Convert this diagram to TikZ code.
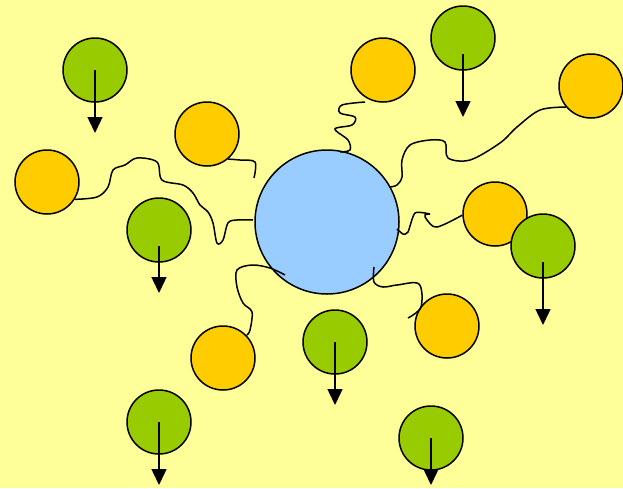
\documentclass[tikz,border=0pt]{standalone}
\usetikzlibrary{arrows.meta}
\definecolor{bgyel}{HTML}{FFFF99}
\definecolor{grn}{HTML}{99CC00}
\definecolor{org}{HTML}{FFCC00}
\definecolor{blu}{HTML}{99CCFF}
\tikzset{
  ball/.style={circle,draw=black,line width=1.5pt,minimum size=64pt,inner sep=0pt},
  gball/.style={ball,fill=grn},
  oball/.style={ball,fill=org},
  bigball/.style={ball,fill=blu,minimum size=144pt},
  wig/.style={line width=1.5pt,draw=black},
  arr/.style={line width=1.5pt,-{Triangle[length=16pt,width=15pt]}}
}
\begin{document}
\begin{tikzpicture}[x=1pt,y=-1pt]
\fill[bgyel] (0,0) rectangle (623,488);
\useasboundingbox (0,0) rectangle (623,488);
% circles
\node[bigball] (big) at (327,222) {};
\node[oball] (o1) at (207,134) {};
\node[oball] (o2) at (383,70) {};
\node[oball] (o3) at (591,86) {};
\node[oball] (o4) at (47,182) {};
\node[oball] (o5) at (495,214) {};
\node[oball] (o6) at (447,326) {};
\node[oball] (o7) at (223,358) {};
\node[gball] (g1) at (95,70) {};
\node[gball] (g2) at (463,38) {};
\node[gball] (g3) at (159,230) {};
\node[gball] (g4) at (543,246) {};
\node[gball] (g5) at (335,342) {};
\node[gball] (g6) at (159,422) {};
\node[gball] (g7) at (431,438) {};
% arrows
\draw[arr] (g1.center) -- ++(0,63);
\draw[arr] ([yshift=-16pt]g2.center) -- ++(0,63);
\draw[arr] ([yshift=-16pt]g3.center) -- ++(0,47);
\draw[arr] ([yshift=-16pt]g4.center) -- ++(0,63);
\draw[arr] (g5.center) -- ++(0,63);
\draw[arr] (g6.center) -- ++(0,63);
\draw[arr] (g7.center) -- ++(0,47);
% wiggly connectors
\draw[wig] plot[smooth,tension=0.55] coordinates {(o4.-32) (97,197) (108,187) (113,170) (125,165) (137,158) (157,162) (162,180) (183,185) (193,193) (200,205) (208,212) (213,223) (217,243) (223,240) (228,223) (237,220) (253,220)};
\draw[wig] plot[smooth,tension=0.55] coordinates {(o1.-50) (240,160) (255,162) (254,178)};
\draw[wig] plot[smooth,tension=0.55] coordinates {(365,102) (342,105) (340,113) (355,117) (352,125) (335,129) (348,140) (350,150) (340,152)};
\draw[wig] plot[smooth,tension=0.55] coordinates {(o3.-140) (540,110) (517,127) (500,143) (470,160) (448,158) (445,142) (430,140) (410,145) (402,160) (402,177) (397,185) (390,187)};
\draw[wig] plot[smooth,tension=0.55] coordinates {(o5.-178) (437,227) (427,220) (425,215) (430,214)};
\draw[wig] plot[smooth,tension=0.4] coordinates {(430,214) (415,213) (408,232) (403,234) (397,229)};
\draw[wig] plot[smooth,tension=0.55] coordinates {(285,275) (270,268) (252,265) (237,270) (237,287) (243,303) (252,312) (250,330) (247,335)};
\draw[wig] plot[smooth,tension=0.55] coordinates {(374,267) (374,282) (383,287) (397,285) (419,284) (421,307) (408,318)};
\end{tikzpicture}
\end{document}
